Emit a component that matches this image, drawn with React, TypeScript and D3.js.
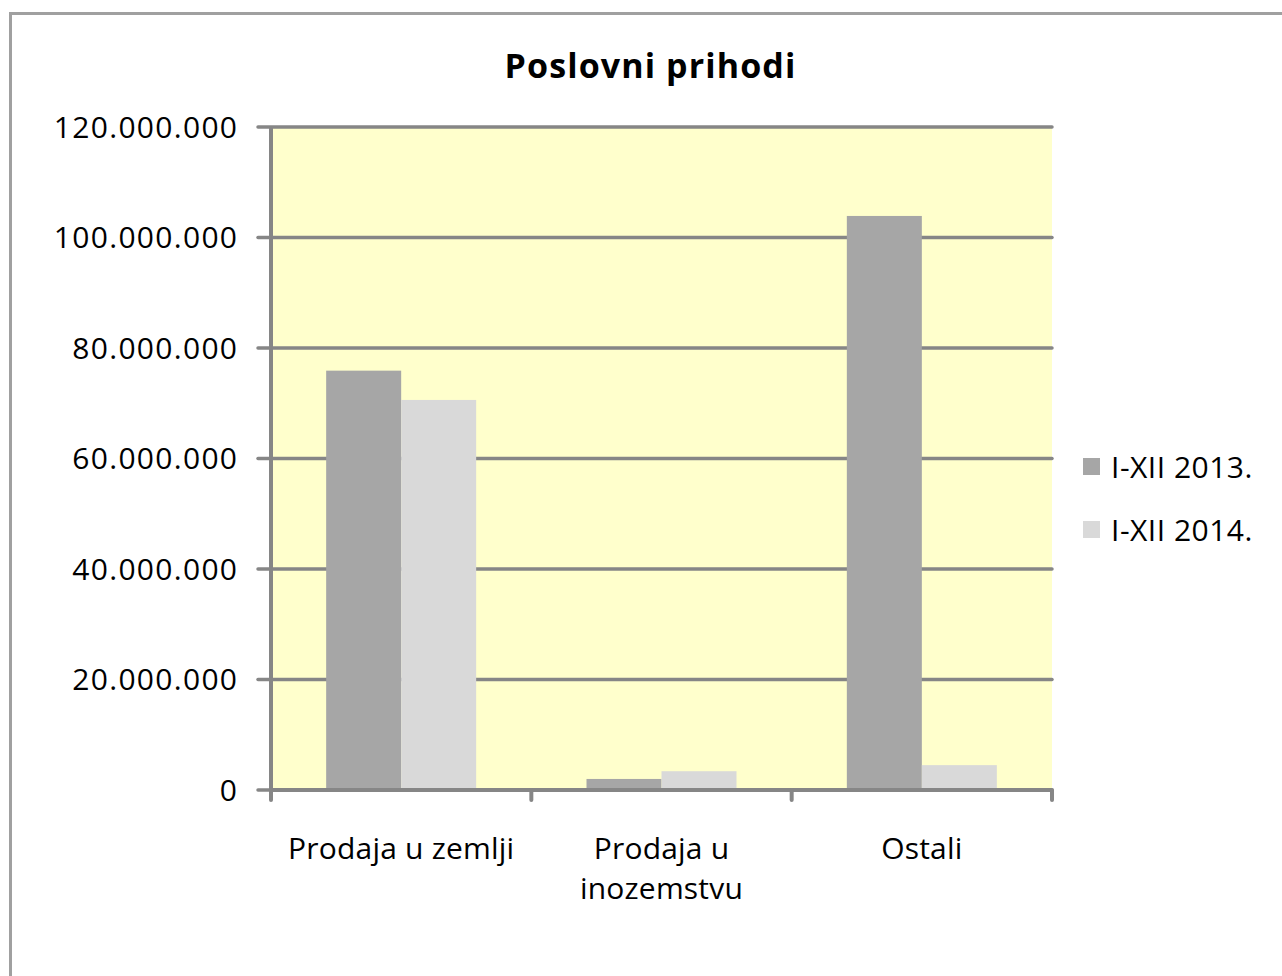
import React from "react";
import * as d3 from "d3";

const categories: string[][] = [["Prodaja u zemlji"], ["Prodaja u", "inozemstvu"], ["Ostali"]];
const seriesNames = ["I-XII 2013.", "I-XII 2014."];
const values2013 = [75900000, 2000000, 103900000];
const values2014 = [70600000, 3400000, 4500000];
const yTicks = [0, 20000000, 40000000, 60000000, 80000000, 100000000, 120000000];
const colors = ["#a6a6a6", "#d9d9d9"];

const fmt = (v: number) => (v === 0 ? "0" : d3.format(",")(v).replace(/,/g, "."));

export default function App() {
  const W = 1282, H = 976;
  const left = 271, right = 1052, top = 127, bottom = 790;
  const x = d3.scaleBand<number>().domain([0, 1, 2]).range([left, right]).paddingInner(0).paddingOuter(0);
  const y = d3.scaleLinear().domain([0, 120000000]).range([bottom, top]);
  const bw = 75;
  const font = "'Open Sans', Lato, sans-serif";
  const fs = 30;
  const series = [values2013, values2014];
  return (
    <svg width={W} height={H} style={{ position: "absolute", left: 0, top: 0, background: "#fff" }} fontFamily={font}>
      <rect x={10.5} y={13.5} width={W + 10} height={H + 10} fill="#fff" stroke="#a0a0a0" strokeWidth={3} />
      <text x={650.5} y={78} textAnchor="middle" fontSize={34} fontWeight="bold" fill="#000" letterSpacing={1.1}>Poslovni prihodi</text>
      <rect x={left} y={top} width={right - left} height={bottom - top} fill="#ffffcc" />
      {yTicks.map((t) => (
        <g key={t}>
          <line x1={258} x2={right} y1={y(t)} y2={y(t)} stroke="#868686" strokeWidth={3.5} strokeLinecap="round" />
          <text x={238.3} y={y(t)} dy="0.36em" textAnchor="end" fontSize={fs} fill="#000" letterSpacing={1.3}>{fmt(t)}</text>
        </g>
      ))}
      {series.map((vals, si) =>
        vals.map((v, ci) => {
          const cx = (x(ci) as number) + x.bandwidth() / 2;
          const bx = cx - bw + si * bw;
          return <rect key={si + "-" + ci} x={bx} y={y(v)} width={bw} height={bottom - y(v)} fill={colors[si]} />;
        })
      )}
      <line x1={left} x2={left} y1={top} y2={bottom} stroke="#868686" strokeWidth={4} />
      <line x1={left} x2={right} y1={bottom} y2={bottom} stroke="#868686" strokeWidth={4} />
      {[0, 1, 2, 3].map((i) => {
        const xx = i < 3 ? (x(i) as number) : right;
        return <line key={i} x1={xx} x2={xx} y1={bottom} y2={800} stroke="#868686" strokeWidth={4} strokeLinecap="round" />;
      })}
      {categories.map((lines, ci) => {
        const cx = (x(ci) as number) + x.bandwidth() / 2;
        return (
          <text key={ci} x={cx} y={859} textAnchor="middle" fontSize={fs} fill="#000" letterSpacing={0.2}>
            {lines.map((l, li) => (
              <tspan key={li} x={cx} dy={li === 0 ? 0 : 40}>{l}</tspan>
            ))}
          </text>
        );
      })}
      {seriesNames.map((s, i) => (
        <g key={s}>
          <rect x={1083} y={458 + i * 63} width={17} height={17} fill={colors[i]} />
          <text x={1111} y={467 + i * 63} dy="0.36em" fontSize={fs} fill="#000" letterSpacing={0.5}>{s}</text>
        </g>
      ))}
    </svg>
  );
}
